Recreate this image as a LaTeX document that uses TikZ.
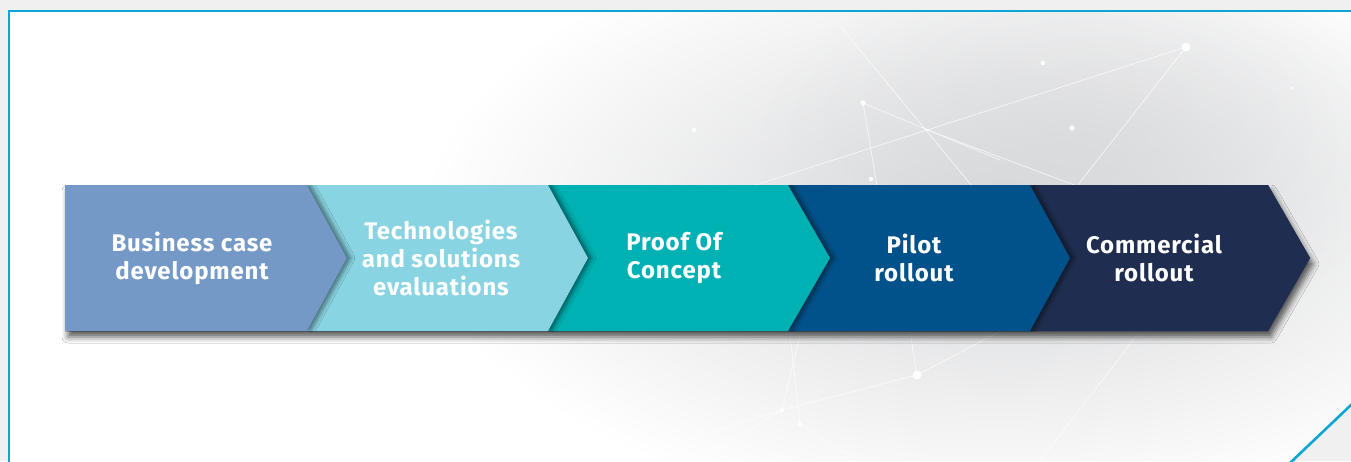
\documentclass[tikz,border=0pt]{standalone}
\usepackage{fontspec}
\setmainfont{Fira Sans}
\usetikzlibrary{shadows.blur,fadings}
\definecolor{outergray}{HTML}{F0F0F0}
\definecolor{framecol}{HTML}{0BA6D6}
\definecolor{bgray}{HTML}{D6D7D9}
\definecolor{cA}{HTML}{7499C6}
\definecolor{cB}{HTML}{89D4E2}
\definecolor{cC}{HTML}{00B1B3}
\definecolor{cD}{HTML}{01528A}
\definecolor{cE}{HTML}{1F2E50}
\tikzfading[name=softblob, inner color=transparent!0, outer color=transparent!100]
\tikzset{
  frameline/.style={draw=framecol, line width=2.6pt},
  netline/.style={draw=white, line width=0.7pt, opacity=0.75},
  netdot/.style={fill=white, opacity=0.9},
  chev/.style={blur shadow={shadow xshift=4pt, shadow yshift=0pt, shadow blur radius=4pt, shadow opacity=45}},
  stripshadow/.style={blur shadow={shadow xshift=3pt, shadow yshift=-6pt, shadow blur radius=6pt, shadow opacity=65}},
  lbl/.style={align=center, text=white, inner sep=0pt, font=\bfseries\fontsize{24}{28}\selectfont\addfontfeatures{LetterSpace=3.5}},
}
\begin{document}
\begin{tikzpicture}[x=1pt,y=-1pt]
\useasboundingbox (0,0) rectangle (1351,461);
\fill[outergray] (0,0) rectangle (1351,461);
\begin{scope}
  \clip (9,11) -- (1351,11) -- (1351,405) -- (1292,461) -- (9,461) -- cycle;
  \fill[white] (0,0) rectangle (1351,461);
  \shade[inner color=bgray, outer color=white] (1000,220) ellipse [x radius=580pt, y radius=300pt];
  \fill[bgray, path fading=softblob, opacity=0.6] (1080,150) ellipse [x radius=320pt, y radius=190pt];
  % network lines
  \coordinate (d1) at (1186,47);
  \coordinate (d2) at (1043,63);
  \coordinate (d3) at (863,103);
  \coordinate (d4) at (1072,128);
  \coordinate (d5) at (694,130);
  \coordinate (d6) at (1292,88);
  \coordinate (d7) at (871,179);
  \coordinate (d8) at (917,375);
  \coordinate (d9) at (782,410);
  \coordinate (d10) at (800,424);
  \coordinate (x1) at (925,129);
  \draw[netline] (d1) -- (740,190);
  \draw[netline] (d1) -- (1077,186);
  \draw[netline] (841,27) -- (972,186);
  \draw[netline] (d3) -- (877,186);
  \draw[netline] (x1) -- (1077,186);
  \draw[netline] (d3) -- (1000,160);
  \draw[netline] (d8) -- (999,332);
  \draw[netline] (d8) -- (910,332);
  \draw[netline] (d8) -- (d9) -- (672,444);
  \draw[netline] (1137,335) -- (1040,461);
  \draw[netline] (790,335) -- (d10);
  \draw[netline] (800,335) -- (d9) -- (698,460);
  \draw[netline] (d10) -- (860,461);
  \foreach \p/\r in {d1/4.5, d2/2.2, d3/2.6, d4/2.6, d5/2.2, d6/1.6, d7/2.2, d8/4.5, d9/2.2, d10/2.2}
    \fill[netdot] (\p) circle [radius=\r pt];
\end{scope}
\draw[frameline] (9,462) -- (9,11) -- (1352,11);
\draw[frameline] (1290,463) -- (1352,404);
% whole strip with its drop shadow
\path[stripshadow, fill=cE] (65,185) -- (1268,185) -- (1310,258) -- (1268,331) -- (65,331) -- cycle;
% chevrons, right to left so each tip shadows the next block
\begin{scope}
\clip (0,185) rectangle (1351,331);
\path[fill=cE] (1030,185) -- (1268,185) -- (1310,258) -- (1268,331) -- (1030,331) -- (1070,258) -- cycle;
\path[chev, fill=cD] (788,185) -- (1030,185) -- (1070,258) -- (1030,331) -- (788,331) -- (830,258) -- cycle;
\path[chev, fill=cC] (548,185) -- (788,185) -- (830,258) -- (788,331) -- (548,331) -- (588,258) -- cycle;
\path[chev, fill=cB] (307,185) -- (548,185) -- (588,258) -- (548,331) -- (307,331) -- (347,258) -- cycle;
\path[chev, fill=cA] (65,185) -- (307,185) -- (347,258) -- (307,331) -- (65,331) -- cycle;
\end{scope}
% labels
\node[lbl] (t1) at (192,258) {Business case\\development};
\node[lbl] (t2) at (441,258) {Technologies\\and solutions\\evaluations};
\node[lbl] (t3) at (674,258) {Proof Of\\Concept};
\node[lbl] (t4) at (914,258) {Pilot\\rollout};
\node[lbl] (t5) at (1154,258) {Commercial\\rollout};
\end{tikzpicture}
\end{document}
